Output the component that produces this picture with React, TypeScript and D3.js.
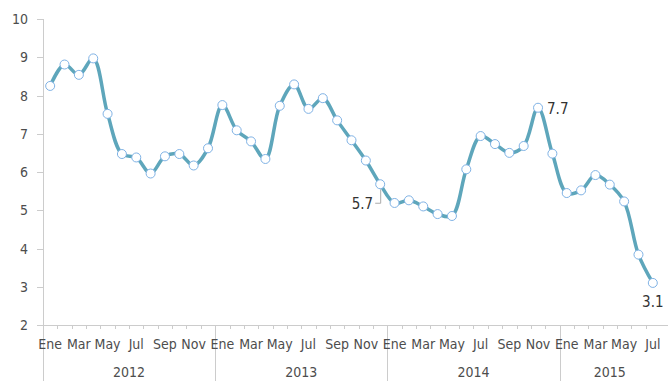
import * as d3 from 'd3'

const W = 668
const H = 381
const MARGIN = { top: 19, right: 7, bottom: 56, left: 43 }

const years = ['2012', '2013', '2014', '2015']
const monthNames = ['Ene', 'Feb', 'Mar', 'Abr', 'May', 'Jun', 'Jul', 'Ago', 'Sep', 'Oct', 'Nov', 'Dic']
const monthsPerYear = [12, 12, 12, 7]

// tasa mensual, Ene 2012 - Jul 2015
const values = [
  8.25, 8.81, 8.54, 8.97, 7.52, 6.47, 6.38, 5.96, 6.41, 6.47, 6.17, 6.62,
  7.75, 7.09, 6.80, 6.34, 7.73, 8.29, 7.65, 7.93, 7.35, 6.83, 6.30, 5.68,
  5.19, 5.26, 5.10, 4.90, 4.85, 6.07, 6.94, 6.73, 6.50, 6.68, 7.68, 6.48,
  5.45, 5.52, 5.92, 5.67, 5.23, 3.84, 3.10
]

const yTicks = [2, 3, 4, 5, 6, 7, 8, 9, 10]

// labelled points: index, text, placement
const callouts = [
  { i: 23, text: '5.7', pos: 'leader' },
  { i: 34, text: '7.7', pos: 'right' },
  { i: 42, text: '3.1', pos: 'below' }
]

const LINE_COLOR = '#5ea6bb'
const MARKER_STROKE = '#7fb2e5'
const TEXT = '#4d4d4d'
const AXIS = '#cccccc'
const FONT = '"Liberation Sans Narrow", "DejaVu Sans Condensed", sans-serif'

type Pt = { i: number; year: string; month: string; value: number }

const points: Pt[] = []
years.forEach((yr, yi) => {
  for (let m = 0; m < monthsPerYear[yi]; m++) {
    const i = points.length
    points.push({ i, year: yr, month: monthNames[m], value: values[i] })
  }
})

export default function App() {
  const x = d3.scaleBand<number>()
    .domain(points.map(d => d.i))
    .range([MARGIN.left, W - MARGIN.right - 1])
    .padding(0)
  const cx = (i: number) => (x(i) ?? 0) + x.bandwidth() / 2

  const y = d3.scaleLinear()
    .domain([2, 10])
    .range([H - MARGIN.bottom, MARGIN.top])

  const line = d3.line<Pt>()
    .x(d => cx(d.i))
    .y(d => y(d.value))
    .curve(d3.curveCatmullRom.alpha(0.5))

  const axisY = y(2)

  // year boundaries
  let acc = 0
  const yearBlocks = years.map((yr, yi) => {
    const start = acc
    acc += monthsPerYear[yi]
    return { yr, start, end: acc - 1 }
  })

  return (
    <svg width={W} height={H} style={{ position: 'absolute', left: 0, top: 0, background: '#fff' }}
      fontFamily={FONT}>
      {/* y axis */}
      <line x1={MARGIN.left + 0.5} x2={MARGIN.left + 0.5} y1={y(10)} y2={H} stroke={AXIS} strokeWidth={1} />
      {yTicks.map(t => (
        <g key={t}>
          <line x1={MARGIN.left - 6} x2={MARGIN.left} y1={Math.round(y(t)) + 0.5} y2={Math.round(y(t)) + 0.5} stroke={AXIS} />
          <text x={28} y={y(t)} textAnchor="end" dominantBaseline="central" fontSize={14} fill={TEXT}>{t}</text>
        </g>
      ))}

      {/* x axis */}
      <line x1={MARGIN.left} x2={W} y1={Math.round(axisY) + 0.5} y2={Math.round(axisY) + 0.5} stroke={AXIS} />
      {points.map(d => (
        <line key={`mt-${d.i}`} x1={Math.round(x(d.i) ?? 0) + 0.5} x2={Math.round(x(d.i) ?? 0) + 0.5}
          y1={axisY} y2={axisY + 4} stroke={AXIS} />
      ))}
      {yearBlocks.slice(1).map(b => (
        <line key={`ys-${b.yr}`} x1={Math.round(x(b.start) ?? 0) + 0.5} x2={Math.round(x(b.start) ?? 0) + 0.5}
          y1={axisY} y2={H} stroke={AXIS} />
      ))}
      {points.filter(d => monthNames.indexOf(d.month) % 2 === 0).map(d => (
        <text key={`ml-${d.i}`} x={cx(d.i)} y={axisY + 19} textAnchor="middle" dominantBaseline="central"
          fontSize={14} fill={TEXT}>{d.month}</text>
      ))}
      {yearBlocks.map(b => {
        const x0 = x(b.start) ?? 0
        const x1 = (x(b.end) ?? 0) + x.bandwidth()
        return (
          <text key={`yl-${b.yr}`} x={(x0 + x1) / 2} y={axisY + 47} textAnchor="middle" dominantBaseline="central"
            fontSize={14} fill={TEXT}>{b.yr}</text>
        )
      })}

      {/* series */}
      <path d={line(points) ?? ''} fill="none" stroke={LINE_COLOR} strokeWidth={3.5}
        strokeLinejoin="round" strokeLinecap="round" />
      {points.map(d => (
        <circle key={`p-${d.i}`} cx={cx(d.i)} cy={y(d.value)} r={4.5} fill="#fff" stroke={MARKER_STROKE} strokeWidth={1} />
      ))}

      {/* callouts */}
      {callouts.map(c => {
        const px = cx(c.i)
        const py = y(values[c.i])
        if (c.pos === 'right') {
          return (
            <text key={c.text} x={px + 9} y={py + 1} dominantBaseline="central" fontSize={15} fill="#333">{c.text}</text>
          )
        }
        if (c.pos === 'below') {
          return (
            <text key={c.text} x={px} y={py + 19} textAnchor="middle" dominantBaseline="central" fontSize={15} fill="#333">{c.text}</text>
          )
        }
        return (
          <g key={c.text}>
            <path d={`M${px + 0.5},${py + 5} L${px + 0.5},${py + 19} L${px - 5},${py + 19}`} fill="none" stroke="#aaa" />
            <text x={px - 7} y={py + 20} textAnchor="end" dominantBaseline="central" fontSize={15} fill="#333">{c.text}</text>
          </g>
        )
      })}
    </svg>
  )
}
